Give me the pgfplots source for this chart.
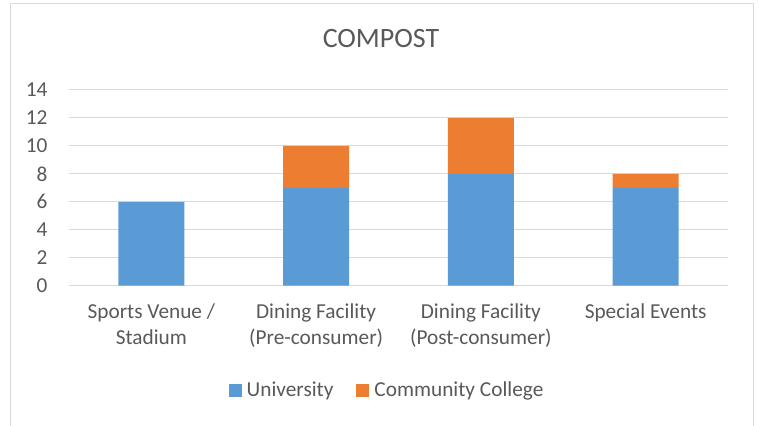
\documentclass[border=0pt]{standalone}
\usepackage{pgfplots}
\pgfplotsset{compat=1.18}
\usepackage{fontspec}
\setmainfont{Carlito}
\definecolor{cblue}{HTML}{5B9BD5}
\definecolor{corange}{HTML}{ED7D31}
\definecolor{ctext}{HTML}{595959}
\definecolor{cgrid}{HTML}{D9D9D9}
\begin{document}
\begin{tikzpicture}[x=1pt,y=1pt]
\useasboundingbox (0,0) rectangle (759,425);
\draw[cgrid, line width=1pt] (10,-2) -- (10,421) -- (753,421) -- (753,-2);
\node[text=ctext, font=\fontsize{28}{32}\selectfont, anchor=base] at (381,425-48) {COMPOST};
\begin{axis}[
  at={(69pt,139.3pt)}, anchor=south west,
  scale only axis, width=659pt, height=195.7pt,
  ybar stacked, bar width=66pt,
  xmin=-0.5, xmax=3.5, ymin=0, ymax=14,
  ytick={0,2,...,14},
  xtick={0,1,2,3},
  xticklabels={{Sports Venue /\\Stadium},{Dining Facility\\(Pre-consumer)},{Dining Facility\\(Post-consumer)},{Special Events}},
  xticklabel style={align=center, text=ctext, font=\fontsize{21.3}{26}\selectfont, anchor=north, yshift=-14pt},
  yticklabel style={text=ctext, font=\fontsize{21.3}{24}\selectfont, xshift=-18pt},
  /pgf/number format/assume math mode=true,
  axis line style={draw=none},
  tick style={draw=none},
  ymajorgrids, grid style={cgrid, line width=1pt},
  major tick length=0pt,
  enlargelimits=false,
  legend style={at={(0.4826,-0.533)}, anchor=center, draw=none, legend columns=2,
    font=\fontsize{21.3}{24}\selectfont, text=ctext,
    /tikz/every even column/.append style={column sep=21pt}},
  legend image code/.code={\fill[#1] (0pt,-6.5pt) rectangle (13pt,6.5pt); \path (16pt,0pt);},
]
\addplot[fill=cblue, draw=none] coordinates {(0,6) (1,7) (2,8) (3,7)};
\addplot[fill=corange, draw=none] coordinates {(0,0) (1,3) (2,4) (3,1)};
\legend{University, Community College}
\end{axis}
\end{tikzpicture}
\end{document}
